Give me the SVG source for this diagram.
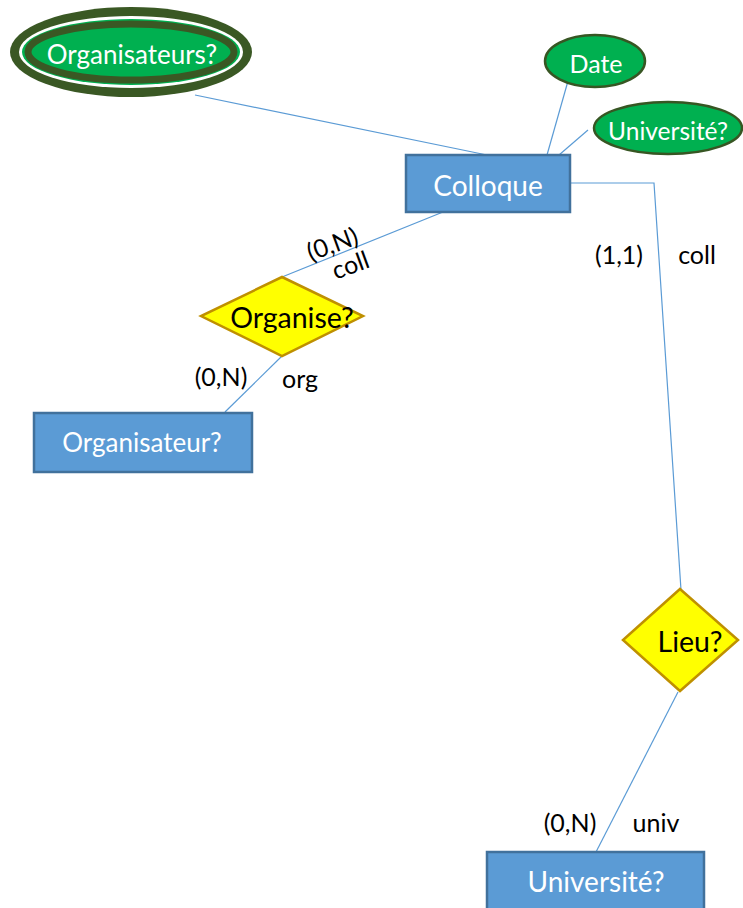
<svg xmlns="http://www.w3.org/2000/svg" width="743" height="908" viewBox="0 0 743 908">
<style>
.ent{fill:#5b9bd5;stroke:#41719c;stroke-width:2.5}
.rel{fill:#ffff00;stroke:#bf9000;stroke-width:2.5}
.att{fill:#00b050;stroke:#375623;stroke-width:2.5}
.wt{fill:#ffffff;font-family:Lato,"Open Sans",sans-serif;text-anchor:middle;dominant-baseline:central}
.bt{fill:#000000;font-family:Lato,"Open Sans",sans-serif;text-anchor:middle;dominant-baseline:central}
.lbl{fill:#000000;font-family:Lato,"Open Sans",sans-serif;font-size:25px;text-anchor:middle;dominant-baseline:central}
.cn{stroke:#5b9bd5;stroke-width:1.2;fill:none}
</style>
<g id="connectors">
<line class="cn" x1="195" y1="95" x2="487" y2="155"/>
<line class="cn" x1="568" y1="81" x2="547" y2="155"/>
<line class="cn" x1="588" y1="130" x2="559" y2="155"/>
<polyline class="cn" points="570,183 654,183 681,590"/>
<line class="cn" x1="443" y1="212" x2="282" y2="277"/>
<line class="cn" x1="282" y1="356" x2="225" y2="412"/>
<line class="cn" x1="678" y1="692" x2="596" y2="852"/>
</g>
<g id="labels">
<text class="lbl" transform="translate(332,243) rotate(-20)">(0,N)</text>
<text class="lbl" transform="translate(350,264) rotate(-20)">coll</text>
<text class="lbl" x="221" y="376">(0,N)</text>
<text class="lbl" x="300" y="378">org</text>
<text class="lbl" x="619" y="254">(1,1)</text>
<text class="lbl" x="697" y="254">coll</text>
<text class="lbl" x="570" y="822">(0,N)</text>
<text class="lbl" x="656" y="822">univ</text>
</g>
<g id="organisateurs-attr">
<ellipse cx="131" cy="52" rx="121" ry="45" fill="#3a5824"/>
<ellipse cx="131" cy="52" rx="112" ry="36" fill="#ffffff"/>
<ellipse cx="131" cy="52" rx="109" ry="33" fill="#00b050"/>
<ellipse cx="131" cy="52" rx="103" ry="28" fill="#00b050" stroke="#3a5824" stroke-width="7"/>
<text class="wt" x="132" y="54" font-size="26">Organisateurs?</text>
</g>
<g id="date-attr">
<ellipse class="att" cx="595" cy="61" rx="50" ry="26"/>
<text class="wt" x="596" y="63" font-size="25">Date</text>
</g>
<g id="universite-attr">
<ellipse class="att" cx="668" cy="128" rx="74" ry="26"/>
<text class="wt" x="668" y="130" font-size="24.5">Université?</text>
</g>
<g id="colloque">
<rect class="ent" x="406" y="155" width="164" height="57"/>
<text class="wt" x="488" y="185" font-size="28">Colloque</text>
</g>
<g id="organise">
<polygon class="rel" points="282,277 363,316 282,356 201,316"/>
<text class="bt" x="292" y="317" font-size="28.5">Organise?</text>
</g>
<g id="organisateur">
<rect class="ent" x="34" y="413" width="218" height="59"/>
<text class="wt" x="142" y="442" font-size="26">Organisateur?</text>
</g>
<g id="lieu">
<polygon class="rel" points="680,589 738,640 680,691 623,640"/>
<text class="bt" x="690" y="641" font-size="28.5">Lieu?</text>
</g>
<g id="universite">
<rect class="ent" x="487" y="852" width="217" height="70"/>
<text class="wt" x="596" y="881" font-size="28">Université?</text>
</g>
</svg>
